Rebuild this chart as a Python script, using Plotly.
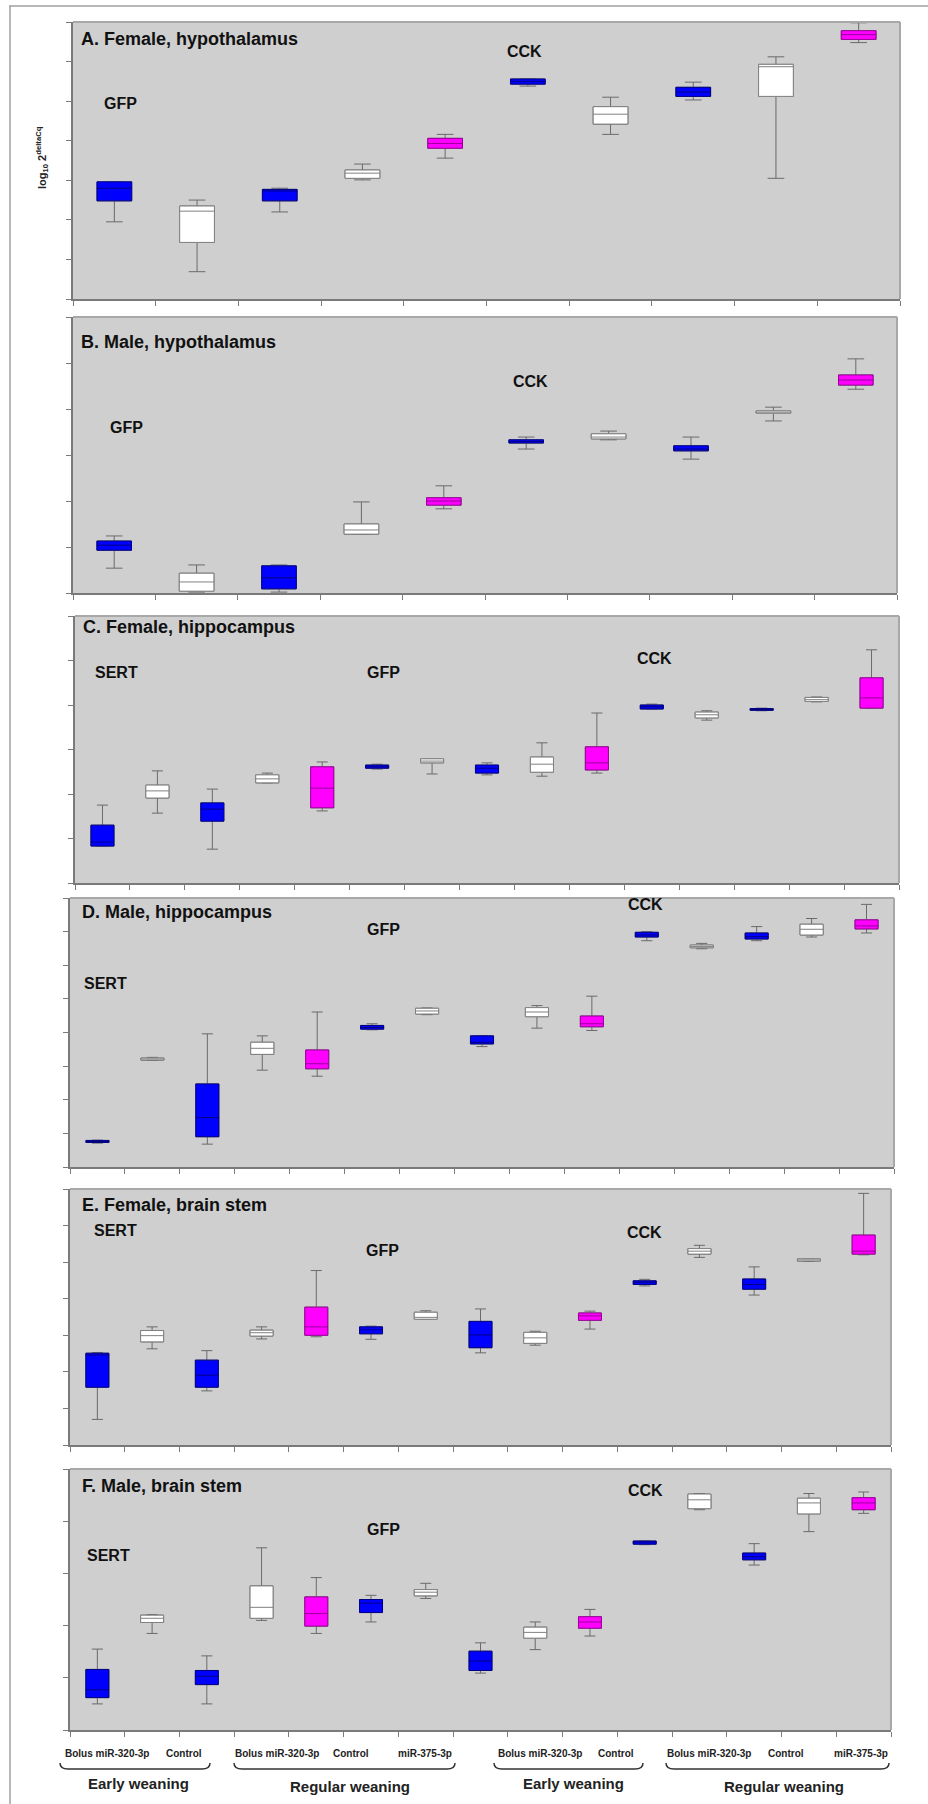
import plotly.graph_objects as go

W, H = 928, 1804

# ---------------- data (axis units, no labels on y) ----------------
BLOCK_COLORS = ["blue", "white", "blue", "white", "magenta"]  # repeats per gene

# A. Female, hypothalamus  (GFP x5, CCK x5)
A_LOW  = [1.95, 0.69, 2.20, 3.01, 3.56, 5.38, 4.16, 5.03, 3.05, 6.48]
A_Q1   = [2.48, 1.43, 2.48, 3.05, 3.81, 5.43, 4.42, 5.12, 5.12, 6.56]
A_MED  = [2.80, 2.22, 2.73, 3.18, 3.93, 5.50, 4.67, 5.23, 5.87, 6.68]
A_Q3   = [2.96, 2.35, 2.77, 3.26, 4.06, 5.56, 4.86, 5.35, 5.93, 6.78]
A_HIGH = [2.96, 2.50, 2.80, 3.41, 4.16, 5.56, 5.10, 5.48, 6.12, 6.98]

# B. Male, hypothalamus
B_LOW  = [0.54, 0.02, 0.02, 1.28, 1.83, 3.13, 3.33, 2.91, 3.74, 4.43]
B_Q1   = [0.93, 0.04, 0.09, 1.28, 1.91, 3.26, 3.35, 3.09, 3.91, 4.52]
B_MED  = [1.04, 0.24, 0.33, 1.37, 2.00, 3.29, 3.39, 3.13, 3.93, 4.63]
B_Q3   = [1.13, 0.43, 0.59, 1.50, 2.07, 3.33, 3.46, 3.20, 3.96, 4.74]
B_HIGH = [1.24, 0.61, 0.61, 1.98, 2.33, 3.39, 3.52, 3.39, 4.04, 5.09]

# C. Female, hippocampus (SERT x5, GFP x5, CCK x5)
C_LOW  = [0.83, 1.57, 0.76, 2.25, 1.62, 2.56, 2.45, 2.43, 2.40, 2.47, 3.91, 3.66, 3.87, 4.07, 3.93]
C_Q1   = [0.83, 1.91, 1.39, 2.25, 1.69, 2.58, 2.70, 2.47, 2.49, 2.54, 3.91, 3.71, 3.88, 4.08, 3.93]
C_MED  = [0.92, 2.07, 1.66, 2.34, 2.13, 2.61, 2.74, 2.58, 2.67, 2.70, 3.96, 3.78, 3.90, 4.12, 4.16]
C_Q3   = [1.30, 2.20, 1.80, 2.43, 2.61, 2.65, 2.79, 2.65, 2.83, 3.06, 4.00, 3.84, 3.92, 4.17, 4.61]
C_HIGH = [1.75, 2.52, 2.11, 2.47, 2.72, 2.67, 2.79, 2.70, 3.15, 3.82, 4.02, 3.87, 3.93, 4.18, 5.24]

# D. Male, hippocampus
D_LOW  = [0.71, 3.17, 0.68, 2.88, 2.70, 4.08, 4.53, 3.58, 4.13, 4.06, 6.73, 6.49, 6.73, 6.84, 6.96]
D_Q1   = [0.73, 3.18, 0.90, 3.35, 2.92, 4.10, 4.55, 3.66, 4.47, 4.17, 6.84, 6.52, 6.78, 6.90, 7.08]
D_MED  = [0.76, 3.21, 1.47, 3.53, 3.07, 4.15, 4.64, 3.71, 4.61, 4.26, 6.90, 6.56, 6.85, 7.07, 7.17]
D_Q3   = [0.79, 3.24, 2.47, 3.71, 3.48, 4.21, 4.72, 3.90, 4.74, 4.49, 6.98, 6.60, 6.96, 7.22, 7.35]
D_HIGH = [0.80, 3.26, 3.96, 3.90, 4.61, 4.26, 4.73, 3.91, 4.80, 5.08, 7.00, 6.65, 7.15, 7.39, 7.81]

# E. Female, brain stem
E_LOW  = [0.70, 2.63, 1.48, 2.90, 2.96, 2.89, 3.44, 2.52, 2.73, 3.17, 4.35, 5.13, 4.10, 5.02, 5.20]
E_Q1   = [1.58, 2.82, 1.58, 2.98, 3.00, 3.04, 3.44, 2.66, 2.78, 3.41, 4.39, 5.22, 4.26, 5.03, 5.22]
E_MED  = [2.46, 2.99, 1.91, 3.07, 3.23, 3.15, 3.49, 3.01, 2.93, 3.53, 4.45, 5.30, 4.39, 5.06, 5.30]
E_Q3   = [2.51, 3.13, 2.32, 3.14, 3.77, 3.23, 3.63, 3.38, 3.08, 3.61, 4.49, 5.37, 4.54, 5.09, 5.74]
E_HIGH = [2.53, 3.23, 2.58, 3.23, 4.77, 3.25, 3.67, 3.72, 3.11, 3.66, 4.53, 5.46, 4.87, 5.09, 6.88]

# F. Male, brain stem
F_LOW  = [0.50, 1.85, 0.50, 2.10, 1.85, 2.07, 2.52, 1.09, 1.54, 1.80, 3.55, 4.22, 3.16, 3.80, 4.15]
F_Q1   = [0.62, 2.06, 0.87, 2.14, 1.99, 2.25, 2.57, 1.14, 1.76, 1.95, 3.56, 4.24, 3.26, 4.14, 4.22]
F_MED  = [0.77, 2.14, 1.03, 2.35, 2.23, 2.43, 2.64, 1.32, 1.87, 2.07, 3.60, 4.41, 3.32, 4.35, 4.35]
F_Q3   = [1.16, 2.20, 1.14, 2.76, 2.55, 2.50, 2.69, 1.51, 1.97, 2.17, 3.62, 4.52, 3.39, 4.44, 4.45]
F_HIGH = [1.55, 2.21, 1.42, 3.49, 2.92, 2.58, 2.81, 1.67, 2.07, 2.31, 3.62, 4.53, 3.57, 4.53, 4.56]

PANEL_TITLES = ["A. Female, hypothalamus", "B. Male, hypothalamus", "C. Female, hippocampus",
                "D. Male, hippocampus", "E. Female, brain stem", "F. Male, brain stem"]
Y_TICK_COUNTS = [7, 6, 6, 8, 7, 5]

CAT_LABELS = ["Bolus miR-320-3p", "Control", "Bolus miR-320-3p", "Control", "miR-375-3p",
              "Bolus miR-320-3p", "Control", "Bolus miR-320-3p", "Control", "miR-375-3p"]
GROUP_LABELS = ["Early weaning", "Regular weaning", "Early weaning", "Regular weaning"]

# ---------------- styling / layout (pixels) ----------------
FONT = "Liberation Sans"
FILL = {"blue": "#0000FF", "white": "#FFFFFF", "magenta": "#FF00FF"}
EDGE = {"blue": "#000080", "white": "#808080", "magenta": "#990099"}
WHISKER = "#6a6a6a"
BG = "#CFCFCF"
BOX_W = 0.42

# plot-area rectangles: x0, x1, y0(top), y1(bottom)
PANEL_RECTS = [(73, 900, 22, 299), (73, 897, 317, 593), (75, 899, 616, 883),
               (70, 894, 898, 1167), (70, 891, 1189, 1445), (70, 891, 1469, 1730)]
TITLE_POS = [(79, 39), (79, 342), (81, 627), (80, 912), (80, 1205), (80, 1486)]
GENE_LABELS = [
    [("GFP", 120, 103), ("CCK", 524, 51)],
    [("GFP", 126, 427), ("CCK", 530, 381)],
    [("SERT", 116, 672), ("GFP", 383, 672), ("CCK", 654, 658)],
    [("SERT", 105, 983), ("GFP", 383, 929), ("CCK", 645, 904)],
    [("SERT", 115, 1230), ("GFP", 382, 1250), ("CCK", 644, 1232)],
    [("SERT", 108, 1555), ("GFP", 383, 1529), ("CCK", 645, 1490)],
]
CAT_LABEL_X = [107, 184, 277, 351, 425, 540, 616, 709, 786, 861]
CAT_LABEL_Y = 1753
BRACES = [(60, 210), (234, 455), (494, 643), (666, 889)]
BRACE_TOP, BRACE_BOT = 1763, 1769
GROUP_LABEL_POS = [(138, 1783), (350, 1786), (573, 1783), (784, 1786)]

PANEL_DATA = [
    (A_LOW, A_Q1, A_MED, A_Q3, A_HIGH),
    (B_LOW, B_Q1, B_MED, B_Q3, B_HIGH),
    (C_LOW, C_Q1, C_MED, C_Q3, C_HIGH),
    (D_LOW, D_Q1, D_MED, D_Q3, D_HIGH),
    (E_LOW, E_Q1, E_MED, E_Q3, E_HIGH),
    (F_LOW, F_Q1, F_MED, F_Q3, F_HIGH),
]


def px(x):
    return x / W


def py(y):
    return 1 - y / H


fig = go.Figure()
axes = {}
shapes = []
annotations = []

for i, (low, q1, med, q3, high) in enumerate(PANEL_DATA):
    n = len(q1)
    sfx = "" if i == 0 else str(i + 1)
    xa, ya = "x" + sfx, "y" + sfx
    xs = list(range(1, n + 1))
    colors = (BLOCK_COLORS * 3)[:n]

    # whiskers layer (gray)
    fig.add_trace(go.Box(
        x=xs, q1=q1, median=med, q3=q3, lowerfence=low, upperfence=high,
        orientation="v", xaxis=xa, yaxis=ya, width=BOX_W, whiskerwidth=0.48,
        line=dict(color=WHISKER, width=1), fillcolor="rgba(0,0,0,0)",
        boxpoints=False, hoverinfo="skip", showlegend=False))
    # coloured boxes
    for c in ["blue", "white", "magenta"]:
        idx = [k for k in range(n) if colors[k] == c]
        fig.add_trace(go.Box(
            x=[xs[k] for k in idx], q1=[q1[k] for k in idx], median=[med[k] for k in idx],
            q3=[q3[k] for k in idx], lowerfence=[q1[k] for k in idx],
            upperfence=[q3[k] for k in idx],
            orientation="v", xaxis=xa, yaxis=ya, width=BOX_W, whiskerwidth=0,
            line=dict(color=EDGE[c], width=1), fillcolor=FILL[c],
            boxpoints=False, hoverinfo="skip", showlegend=False))

    x0, x1, y0, y1 = PANEL_RECTS[i]
    ny = Y_TICK_COUNTS[i]
    axes["xaxis" + sfx] = dict(
        domain=[px(x0), px(x1)], range=[0.5, n + 0.5], anchor=ya,
        tickmode="array", tickvals=[k + 0.5 for k in range(n + 1)],
        ticks="outside", ticklen=5, tickwidth=1, tickcolor="#7a7a7a",
        showticklabels=False, showline=True, linecolor="#7a7a7a", linewidth=2,
        showgrid=False, zeroline=False, fixedrange=True)
    axes["yaxis" + sfx] = dict(
        domain=[py(y1), py(y0)], range=[0, ny], anchor=xa,
        tickmode="array", tickvals=list(range(ny + 1)),
        ticks="outside", ticklen=5, tickwidth=1, tickcolor="#7a7a7a",
        showticklabels=False, showline=True, linecolor="#7a7a7a", linewidth=2,
        showgrid=False, zeroline=False, fixedrange=True)
    # lighter top / right border
    shapes.append(dict(type="line", xref="paper", yref="paper", x0=px(x0), x1=px(x1),
                       y0=py(y0), y1=py(y0), line=dict(color="#a8a8a8", width=2)))
    shapes.append(dict(type="line", xref="paper", yref="paper", x0=px(x1), x1=px(x1),
                       y0=py(y0), y1=py(y1), line=dict(color="#a8a8a8", width=2)))

    tx, ty = TITLE_POS[i]
    annotations.append(dict(text="<b>" + PANEL_TITLES[i] + "</b>", x=px(tx), y=py(ty),
                            xref="paper", yref="paper", xanchor="left", yanchor="middle",
                            showarrow=False, font=dict(family=FONT, size=18, color="#111")))
    for (g, gx, gy) in GENE_LABELS[i]:
        annotations.append(dict(text="<b>" + g + "</b>", x=px(gx), y=py(gy),
                                xref="paper", yref="paper", xanchor="center", yanchor="middle",
                                showarrow=False, font=dict(family=FONT, size=16, color="#111")))

# y axis title (panel A only)
annotations.append(dict(text="<b>log<sub>10</sub> 2<sup>deltaCq</sup></b>", x=px(42), y=py(158),
                        xref="paper", yref="paper", xanchor="center", yanchor="middle",
                        textangle=-90, showarrow=False,
                        font=dict(family=FONT, size=11, color="#222")))

# category labels under bottom panel
for lab, lx in zip(CAT_LABELS, CAT_LABEL_X):
    annotations.append(dict(text="<b>" + lab + "</b>", x=px(lx), y=py(CAT_LABEL_Y),
                            xref="paper", yref="paper", xanchor="center", yanchor="middle",
                            showarrow=False, font=dict(family=FONT, size=10, color="#222")))
for lab, (gx, gy) in zip(GROUP_LABELS, GROUP_LABEL_POS):
    annotations.append(dict(text="<b>" + lab + "</b>", x=px(gx), y=py(gy),
                            xref="paper", yref="paper", xanchor="center", yanchor="middle",
                            showarrow=False, font=dict(family=FONT, size=15, color="#222")))

# braces
for (bx0, bx1) in BRACES:
    a, b = px(bx0), px(bx1)
    d = px(8)
    t, bt = py(BRACE_TOP), py(BRACE_BOT)
    path = (f"M {a},{t} Q {a},{bt} {a + d},{bt} L {b - d},{bt} Q {b},{bt} {b},{t}")
    shapes.append(dict(type="path", xref="paper", yref="paper", path=path,
                       line=dict(color="#333", width=1.5)))

# outer frame (top and left lines)
shapes.append(dict(type="line", xref="paper", yref="paper", x0=px(9), x1=1,
                   y0=py(6), y1=py(6), line=dict(color="#a0a0a0", width=1.5)))
shapes.append(dict(type="line", xref="paper", yref="paper", x0=px(10), x1=px(10),
                   y0=py(6), y1=0, line=dict(color="#a0a0a0", width=1.5)))

fig.update_layout(
    width=W, height=H, autosize=False,
    margin=dict(l=0, r=0, t=0, b=0),
    paper_bgcolor="white", plot_bgcolor=BG,
    boxmode="overlay", showlegend=False,
    shapes=shapes, annotations=annotations,
    **axes)

fig.write_html("out.html")
